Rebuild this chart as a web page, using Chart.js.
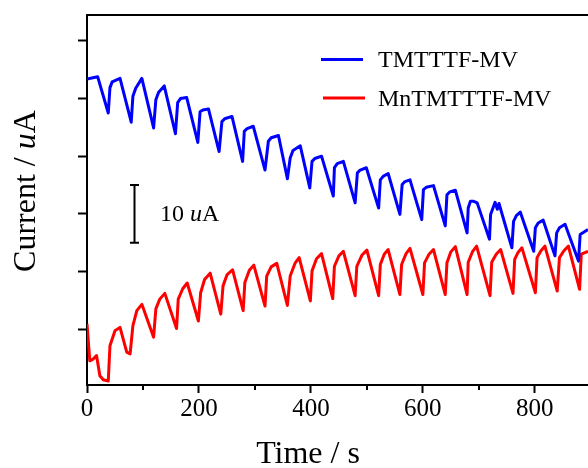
<!DOCTYPE html>
<html>
<head>
<meta charset="utf-8">
<script src="https://cdn.jsdelivr.net/npm/chart.js@4"></script>
<style>
  html, body { margin: 0; padding: 0; background: #fff; overflow: hidden; }
</style>
</head>
<body>
<canvas id="chart" width="588" height="468"></canvas>
<script>
// series: time in s, current in uA (offset arbitrary)
const blueLabel = 'TMTTTF-MV';
const redLabel  = 'MnTMTTTF-MV';

const blueTime = [0, 19, 38,
  41, 45, 59, 79,
  82, 87, 98, 119,
  123, 128, 138, 158,
  162, 167, 178, 198,
  202, 207, 217, 236,
  241, 246, 259, 278,
  281, 286, 297, 318,
  324, 329, 342, 358,
  363, 368, 381, 398,
  402, 407, 419, 440,
  442, 447, 458, 479,
  483, 488, 499, 521,
  524, 529, 538, 559,
  563, 568, 577, 598,
  601, 606, 619, 640,
  643, 648, 658, 679,
  681, 685, 690, 697, 719,
  721, 729, 733, 736, 759,
  762, 767, 774, 798,
  801, 806, 815, 836,
  839, 844, 854, 878,
  881, 895];
const blueCurrent = [53.4, 53.8, 47.5,
  51.9, 52.9, 53.5, 45.9,
  50.4, 51.8, 53.5, 44.9,
  49.8, 51.1, 52.2, 43.9,
  49.3, 50.0, 50.2, 42.4,
  47.7, 48.0, 48.2, 40.8,
  46.0, 46.5, 46.9, 39.1,
  44.3, 44.8, 45.2, 37.6,
  42.6, 43.2, 43.6, 36.1,
  39.7, 41.0, 41.8, 34.5,
  39.1, 39.6, 40.0, 33.1,
  38.0, 38.7, 39.1, 31.9,
  37.1, 37.6, 38.0, 31.0,
  35.9, 36.5, 37.0, 29.9,
  35.1, 35.6, 35.9, 29.0,
  34.2, 34.6, 34.9, 27.9,
  33.3, 33.8, 34.1, 26.7,
  31.0, 32.2, 32.2, 31.9, 25.6,
  29.9, 32.0, 30.8, 31.8, 24.1,
  28.7, 29.7, 30.3, 23.5,
  27.6, 28.4, 28.9, 22.7,
  26.7, 27.6, 28.2, 21.8,
  26.4, 27.3];

const redTime = [0, 5, 11, 17, 23, 29, 38,
  41, 50, 59, 71, 77,
  82, 89, 98, 119,
  123, 130, 139, 160,
  163, 171, 179, 199,
  203, 210, 220, 239,
  243, 250, 260, 279,
  282, 290, 298, 318,
  321, 329, 339, 358,
  363, 372, 379, 399,
  402, 410, 419, 439,
  442, 450, 458, 479,
  482, 491, 500, 521,
  524, 531, 538, 559,
  562, 570, 577, 600,
  603, 611, 619, 640,
  643, 650, 658, 679,
  681, 689, 696, 720,
  723, 731, 739, 761,
  764, 770, 777, 801,
  804, 811, 818, 840,
  844, 852, 860, 880,
  883, 895];
const redCurrent = [10.9, 4.5, 4.8, 5.4, 1.9, 1.2, 1.0,
  7.1, 9.7, 10.3, 6.0, 5.7,
  10.6, 13.2, 14.3, 8.6,
  13.5, 15.2, 16.2, 10.1,
  15.2, 17.0, 18.0, 11.4,
  16.3, 18.6, 19.7, 12.6,
  17.5, 19.4, 20.3, 13.2,
  18.1, 20.2, 21.1, 14.0,
  19.2, 20.8, 21.4, 14.1,
  19.2, 21.5, 22.4, 14.9,
  20.1, 22.2, 23.1, 15.3,
  20.9, 22.7, 23.5, 15.8,
  20.9, 22.8, 23.7, 15.8,
  21.2, 23.0, 23.8, 16.0,
  21.2, 23.1, 24.0, 16.0,
  21.5, 23.0, 23.8, 16.0,
  21.5, 23.4, 24.3, 16.0,
  21.6, 23.5, 24.4, 15.8,
  21.6, 23.0, 23.8, 16.2,
  22.1, 23.3, 24.1, 16.3,
  22.4, 23.6, 24.4, 16.6,
  22.4, 23.6, 24.4, 16.9,
  23.0, 23.5];

const timeMin = 0, timeMax = 895;
const timeMajorStep = 200, timeMinorStep = 100;
const currentMin = 0.3, currentMax = 64.5, currentStep = 10;
// 10 uA scale bar
const scaleBarTime = 84, scaleBarFrom = 25, scaleBarTo = 35;

const SERIF = '"Liberation Serif", "Times New Roman", serif';

function toPoints(xs, ys) {
  return xs.map((x, i) => ({ x, y: ys[i] }));
}

// draw a run of [text, italic] pieces starting at x
function textWidth(ctx, parts, size) {
  let w = 0;
  parts.forEach(([txt, it]) => {
    ctx.font = `${it ? 'italic ' : ''}${size}px ${SERIF}`;
    w += ctx.measureText(txt).width;
  });
  return w;
}
function drawParts(ctx, parts, x, y, size) {
  let cx = x;
  parts.forEach(([txt, it]) => {
    ctx.font = `${it ? 'italic ' : ''}${size}px ${SERIF}`;
    ctx.fillText(txt, cx, y);
    cx += ctx.measureText(txt).width;
  });
}

const decorations = {
  id: 'decorations',
  afterDraw(chart) {
    const { ctx, chartArea, scales } = chart;
    const xs = scales.x, ys = scales.y;
    ctx.save();
    ctx.fillStyle = '#000';
    ctx.strokeStyle = '#000';
    ctx.textAlign = 'left';
    ctx.textBaseline = 'alphabetic';

    // minor x ticks
    ctx.lineWidth = 2;
    ctx.beginPath();
    for (let v = timeMinorStep; v < timeMax; v += timeMajorStep) {
      const px = Math.round(xs.getPixelForValue(v));
      ctx.moveTo(px, chartArea.bottom);
      ctx.lineTo(px, chartArea.bottom + 5);
    }
    ctx.stroke();

    // axis titles
    const xTitle = [['Time / s', false]];
    drawParts(ctx, xTitle, 308 - textWidth(ctx, xTitle, 32) / 2, 463, 32);

    const yTitle = [['Current / ', false], ['u', true], ['A', false]];
    ctx.save();
    ctx.translate(35, 191);
    ctx.rotate(-Math.PI / 2);
    drawParts(ctx, yTitle, -textWidth(ctx, yTitle, 32) / 2, 0, 32);
    ctx.restore();

    // scale bar
    const bx = Math.round(xs.getPixelForValue(scaleBarTime)) + 0.5;
    const by1 = ys.getPixelForValue(scaleBarTo);
    const by2 = ys.getPixelForValue(scaleBarFrom);
    ctx.lineWidth = 2;
    ctx.beginPath();
    ctx.moveTo(bx, by1); ctx.lineTo(bx, by2);
    ctx.moveTo(bx - 4.5, by1); ctx.lineTo(bx + 4.5, by1);
    ctx.moveTo(bx - 4.5, by2); ctx.lineTo(bx + 4.5, by2);
    ctx.stroke();
    drawParts(ctx, [['10 ', false], ['u', true], ['A', false]], 160, 221, 24);

    // legend
    const rows = [{ y: 59.5, x0: 321, ty: 66.5 }, { y: 98, x0: 323, ty: 106 }];
    chart.data.datasets.forEach((ds, i) => {
      const r = rows[i];
      ctx.strokeStyle = ds.borderColor;
      ctx.lineWidth = 3;
      ctx.beginPath();
      ctx.moveTo(r.x0, r.y); ctx.lineTo(r.x0 + 42, r.y);
      ctx.stroke();
      drawParts(ctx, [[ds.label, false]], 378, r.ty, 24);
    });
    ctx.restore();
  }
};

new Chart(document.getElementById('chart'), {
  type: 'line',
  data: {
    datasets: [
      { label: blueLabel, data: toPoints(blueTime, blueCurrent), borderColor: '#0000ff',
        borderWidth: 3, pointRadius: 0, tension: 0, fill: false, borderJoinStyle: 'round' },
      { label: redLabel, data: toPoints(redTime, redCurrent), borderColor: '#ff0000',
        borderWidth: 3, pointRadius: 0, tension: 0, fill: false, borderJoinStyle: 'round' }
    ]
  },
  options: {
    responsive: false,
    animation: false,
    layout: { padding: { left: 78, top: 15, right: 0, bottom: 43 } },
    plugins: { legend: { display: false }, tooltip: { enabled: false } },
    scales: {
      x: {
        type: 'linear', position: 'bottom',
        min: timeMin, max: timeMax,
        border: { display: true, color: '#000', width: 2 },
        grid: { drawOnChartArea: false, drawTicks: true, tickLength: 8, tickWidth: 2, tickColor: '#000' },
        ticks: {
          stepSize: timeMajorStep, includeBounds: false, padding: 1,
          color: '#000', font: { family: SERIF, size: 25 }, maxRotation: 0
        }
      },
      top: {
        type: 'linear', position: 'top',
        border: { display: true, color: '#000', width: 2 },
        grid: { display: false, drawTicks: false },
        ticks: { display: false }
      },
      y: {
        type: 'linear', position: 'left',
        min: currentMin, max: currentMax,
        border: { display: true, color: '#000', width: 2 },
        grid: { drawOnChartArea: false, drawTicks: true, tickLength: 9, tickWidth: 2, tickColor: '#000' },
        ticks: { display: false, stepSize: currentStep, includeBounds: false }
      }
    }
  },
  plugins: [decorations]
});
</script>
</body>
</html>
